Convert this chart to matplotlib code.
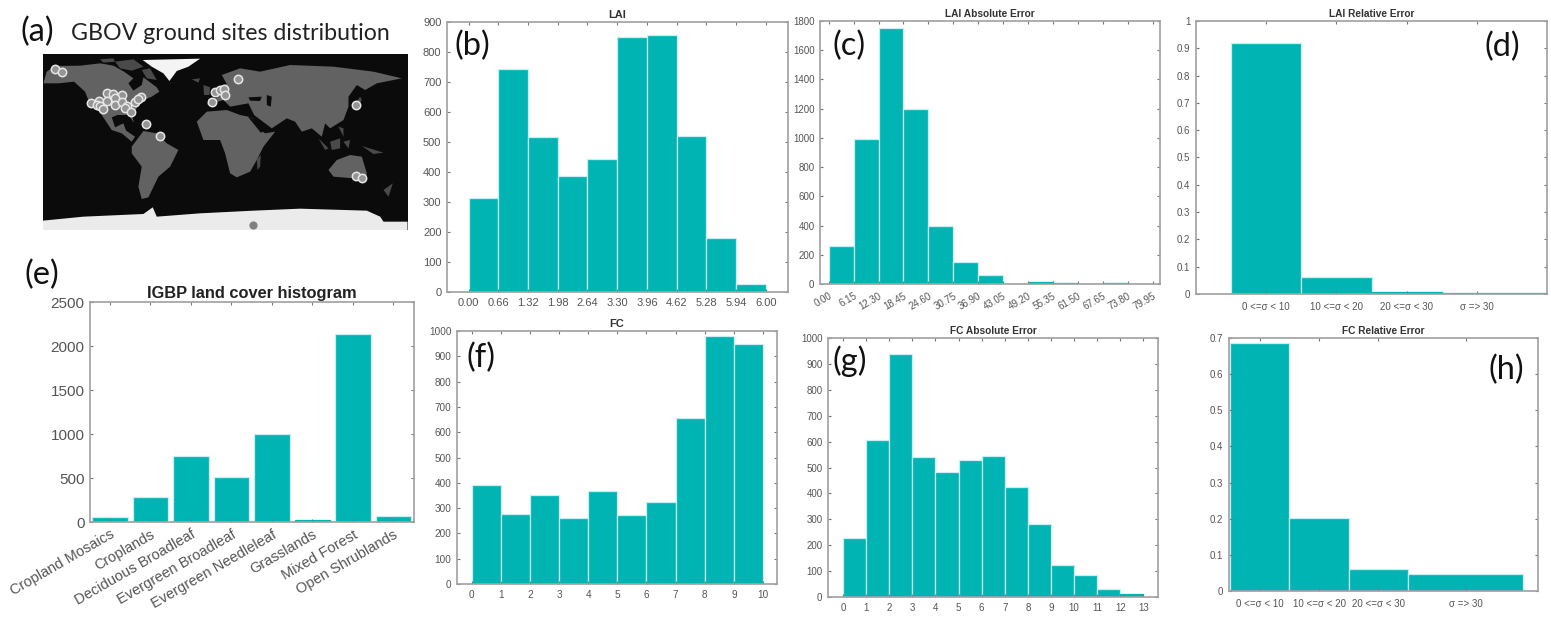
import matplotlib
matplotlib.use("Agg")
import matplotlib.pyplot as plt
import numpy as np

plt.rcParams['font.family'] = ['Liberation Sans', 'DejaVu Sans']

W, H = 1551, 625
BAR = '#00b4b4'
EDGE = '#c8eeee'
SPINE = '#a0a0a0'
TXT = '#555555'

# bar data
lai_labels = ['0.00', '0.66', '1.32', '1.98', '2.64', '3.30', '3.96', '4.62', '5.28', '5.94', '6.00']
lai_vals = [312, 742, 516, 388, 442, 850, 858, 519, 179, 26]

lai_abs_labels = ['0.00', '6.15', '12.30', '18.45', '24.60', '30.75', '36.90', '43.05', '49.20', '55.35',
                  '61.50', '67.65', '73.80', '79.95']
lai_abs_vals = [260, 990, 1755, 1195, 395, 148, 60, 0, 12, 7, 0, 4, 3]

rel_labels = ['0 <=σ < 10', '10 <=σ < 20', '20 <=σ < 30', 'σ => 30']
lai_rel_edges = [0, 1, 2, 3, 4.5]
lai_rel_vals = [0.92, 0.064, 0.008, 0.003]
lai_rel_ticks = [0.5, 1.5, 2.5, 3.5]

igbp_labels = ['Cropland Mosaics', 'Croplands', 'Deciduous Broadleaf', 'Evergreen Broadleaf',
               'Evergreen Needleleaf', 'Grasslands', 'Mixed Forest', 'Open Shrublands']
igbp_vals = [60, 285, 750, 510, 995, 20, 2140, 70]

fc_labels = ['0', '1', '2', '3', '4', '5', '6', '7', '8', '9', '10']
fc_vals = [393, 277, 353, 262, 367, 271, 323, 655, 982, 948]

fc_abs_labels = [str(i) for i in range(14)]
fc_abs_vals = [228, 606, 940, 542, 482, 530, 545, 425, 280, 125, 85, 32, 12]

fc_rel_edges = [0, 1, 2, 3, 4.93]
fc_rel_vals = [0.685, 0.203, 0.061, 0.047]
fc_rel_ticks = [0.5, 1.5, 2.5, 3.97]

# map outlines and sites at 3x
north_america = [(130, 250), (140, 215), (165, 198), (240, 197), (300, 190), (340, 197), (372, 215), (400, 235),
                 (385, 250), (400, 272), (425, 255), (430, 232), (470, 262), (478, 275), (455, 290), (430, 300),
                 (410, 325), (395, 345), (402, 368), (385, 345), (352, 345), (335, 352), (345, 382), (370, 370),
                 (378, 392), (405, 410), (395, 425), (365, 400), (335, 390), (305, 345), (285, 320), (265, 300),
                 (255, 275), (222, 245), (175, 250)]
arctic_islands = [[(345, 185), (400, 178), (430, 200), (395, 212), (360, 205)], [(425, 210), (450, 205), (470, 240),
                  (440, 235)], [(300, 178), (340, 175), (345, 185), (310, 188)]]
greenland = [(428, 180), (600, 176), (565, 200), (530, 213), (508, 243), (490, 220), (455, 200)]
south_america = [(395, 440), (430, 393), (470, 400), (500, 430), (535, 450), (510, 500), (475, 530), (445, 592),
                 (425, 597), (415, 560), (425, 500), (395, 460)]
africa = [(590, 365), (620, 335), (680, 330), (720, 345), (755, 352), (775, 385), (795, 400), (825, 395), (790, 440),
          (770, 480), (750, 515), (710, 532), (690, 520), (675, 460), (660, 420), (610, 420)]
eurasia = [(622, 315), (625, 298), (650, 295), (645, 265), (680, 252), (665, 225), (720, 205), (780, 215), (870, 195),
           (1000, 200), (1120, 215), (1205, 235), (1130, 250), (1095, 270), (1070, 255), (1045, 290), (1045, 320),
           (1030, 360), (990, 385), (975, 370), (965, 410), (935, 385), (905, 395), (885, 365), (860, 355),
           (815, 385), (762, 345), (745, 310), (690, 320), (670, 300)]
australia = [(985, 510), (1010, 480), (1050, 465), (1085, 470), (1100, 520), (1095, 545), (1060, 535), (1000, 530)]
islands = [[(1060, 318), (1080, 290), (1085, 300), (1068, 330)], [(1085, 438), (1150, 458), (1120, 462)],
           [(955, 415), (985, 445), (975, 450)], [(990, 425), (1020, 415), (1020, 445), (995, 450)],
           [(1030, 425), (1050, 420), (1045, 445)], [(1015, 380), (1030, 385), (1030, 410)],
           [(610, 255), (630, 262), (628, 285), (612, 285)], [(770, 478), (782, 465), (780, 500), (772, 510)],
           [(575, 238), (600, 235), (595, 248)], [(1150, 570), (1178, 550), (1165, 590)]]
seas = [[(745, 292), (785, 290), (780, 303), (750, 302)], [(800, 285), (815, 290), (812, 320), (800, 315)],
        [(748, 345), (790, 395), (782, 398), (745, 352)], [(345, 352), (370, 345), (385, 365), (360, 372)]]
antarctica = [(128, 662), (250, 650), (430, 642), (458, 622), (470, 650), (600, 640), (760, 632), (900, 626),
              (1100, 632), (1140, 650), (1150, 665), (1222, 665), (1222, 690), (128, 690)]

site_x = [165, 187, 272, 298, 290, 300, 320, 338, 367, 320, 345, 345, 365, 380, 375, 392, 405, 423, 415, 310,
          437, 480, 645, 660, 672, 675, 637, 714, 1067, 1067, 1087]
site_y = [208, 217, 309, 303, 315, 318, 278, 282, 285, 302, 293, 315, 305, 318, 325, 337, 307, 292, 298, 328,
          371, 409, 277, 270, 268, 285, 305, 237, 316, 529, 534]
pole_x = [760]
pole_y = [676]

fig = plt.figure(figsize=(W / 100, H / 100), dpi=100)


def make_axes(left, top, right, bottom):
    return fig.add_axes([left / W, 1 - bottom / H, (right - left) / W, (bottom - top) / H])


def style(ax, fs):
    for s in ax.spines.values():
        s.set_color(SPINE)
        s.set_linewidth(1.2)
    ax.tick_params(direction='in', top=True, right=True, length=2.5, width=0.8, color='#777777',
                   labelsize=fs, labelcolor=TXT, pad=4)


def edge_colors(vals, ymax):
    # tiny bars would vanish under a light edge
    return [BAR if v / ymax < 0.02 else EDGE for v in vals]


def hist_panel(box, vals, labels, ylim, yticks, xlim, title, fs=7, tfs=7.3):
    ax = make_axes(*box)
    ax.bar(np.arange(len(vals)) + 0.5, vals, width=1.0, color=BAR, edgecolor=edge_colors(vals, ylim[1]), linewidth=0.9)
    ax.set_xlim(xlim)
    ax.set_ylim(ylim)
    ax.set_xticks(np.arange(len(labels)))
    ax.set_xticklabels(labels)
    ax.set_yticks(yticks)
    ax.set_yticklabels([str(t) for t in yticks])
    ax.set_title(title, fontsize=tfs, fontweight='bold', color='#333333', pad=3)
    style(ax, fs)
    return ax


def rel_panel(box, edges, vals, ticks, ylim, yticks, xlim, title):
    ax = make_axes(*box)
    edges = np.array(edges)
    ax.bar(edges[:-1], vals, width=np.diff(edges), align='edge', color=BAR,
           edgecolor=edge_colors(vals, ylim[1]), linewidth=0.9)
    ax.set_xlim(xlim)
    ax.set_ylim(ylim)
    ax.set_xticks(ticks)
    ax.set_xticklabels(rel_labels)
    ax.set_yticks(yticks)
    ax.set_yticklabels(['%g' % t for t in yticks])
    ax.set_title(title, fontsize=7.3, fontweight='bold', color='#333333', pad=3)
    style(ax, 7)
    ax.tick_params(axis='x', pad=6)
    return ax


# (a) map
ax = make_axes(42.7, 54, 407.5, 230)
ax.set_facecolor('#0b0b0b')
ax.set_xlim(128, 1222)
ax.set_ylim(690, 162)
land = '#626262'
for poly in [north_america, south_america, africa, eurasia, australia]:
    ax.fill(*zip(*poly), color=land, lw=0)
for poly in arctic_islands + islands:
    ax.fill(*zip(*poly), color='#4a4a4a', lw=0)
for poly in seas:
    ax.fill(*zip(*poly), color='#0b0b0b', lw=0)
ax.fill(*zip(*greenland), color='#f4f4f4', lw=0)
ax.fill(*zip(*antarctica), color='#ebebeb', lw=0)
ax.scatter(site_x, site_y, s=36, facecolor='#959595', edgecolor='#e6e6e6', linewidth=1.1, zorder=3)
ax.scatter(pole_x, pole_y, s=24, color='#808080', zorder=3)
ax.set_xticks([])
ax.set_yticks([])
for s in ax.spines.values():
    s.set_visible(False)

# (b)
hist_panel((447, 22, 788, 292), lai_vals, lai_labels, (0, 900), list(range(0, 901, 100)), (-0.73, 10.75), 'LAI', 8, 8)

# (c)
ax = hist_panel((820, 21, 1160, 284), lai_abs_vals, lai_abs_labels, (0, 1800), list(range(0, 1801, 200)),
                (-0.35, 13.3), 'LAI Absolute Error')
plt.setp(ax.get_xticklabels(), rotation=30, ha='right', rotation_mode='anchor')
ax.tick_params(axis='x', pad=5)

# (d)
rel_panel((1196, 21, 1547, 294), lai_rel_edges, lai_rel_vals, lai_rel_ticks, (0, 1),
          list(np.round(np.arange(0, 1.01, 0.1), 1)), (-0.5, 4.5), 'LAI Relative Error')

# (e)
ax = make_axes(90, 302, 414, 522)
ax.bar(range(len(igbp_vals)), igbp_vals, width=0.88, color=BAR, edgecolor=edge_colors(igbp_vals, 2500), linewidth=0.9)
ax.set_xlim(-0.49, 7.51)
ax.set_ylim(0, 2500)
ax.set_xticks(range(len(igbp_labels)))
ax.set_xticklabels(igbp_labels, rotation=30, ha='right', rotation_mode='anchor')
ax.set_yticks([0, 500, 1000, 1500, 2000, 2500])
ax.set_title('IGBP land cover histogram', fontsize=11.8, fontweight='bold', color='#222222', pad=3)
style(ax, 11)
ax.tick_params(axis='x', labelsize=10.5)

# (f)
hist_panel((457, 331, 777, 584), fc_vals, fc_labels, (0, 1000), list(range(0, 1001, 100)), (-0.5, 10.48), 'FC', 7.2, 8)

# (g)
hist_panel((828, 338, 1158, 597), fc_abs_vals, fc_abs_labels, (0, 1000), list(range(0, 1001, 100)), (-0.65, 13.63),
           'FC Absolute Error')

# (h)
rel_panel((1229, 338, 1538, 591), fc_rel_edges, fc_rel_vals, fc_rel_ticks, (0, 0.7),
          list(np.round(np.arange(0, 0.71, 0.1), 1)), (-0.02, 5.19), 'FC Relative Error')

# panel letters
letters = {'(a)': (20, 32), '(b)': (454, 46), '(c)': (833, 46), '(d)': (1485, 47),
           '(e)': (24, 275), '(f)': (466, 358), '(g)': (833, 361), '(h)': (1489, 370)}
for k, (x, y) in letters.items():
    fig.text(x / W, 1 - y / H, k, fontsize=23.5, family='Lato', color='#111111', ha='left', va='center')
fig.text(71 / W, 1 - 34 / H, 'GBOV ground sites distribution', fontsize=16.7, family='Lato', color='#222222',
         ha='left', va='center')

fig.savefig('out.png', dpi=100)
